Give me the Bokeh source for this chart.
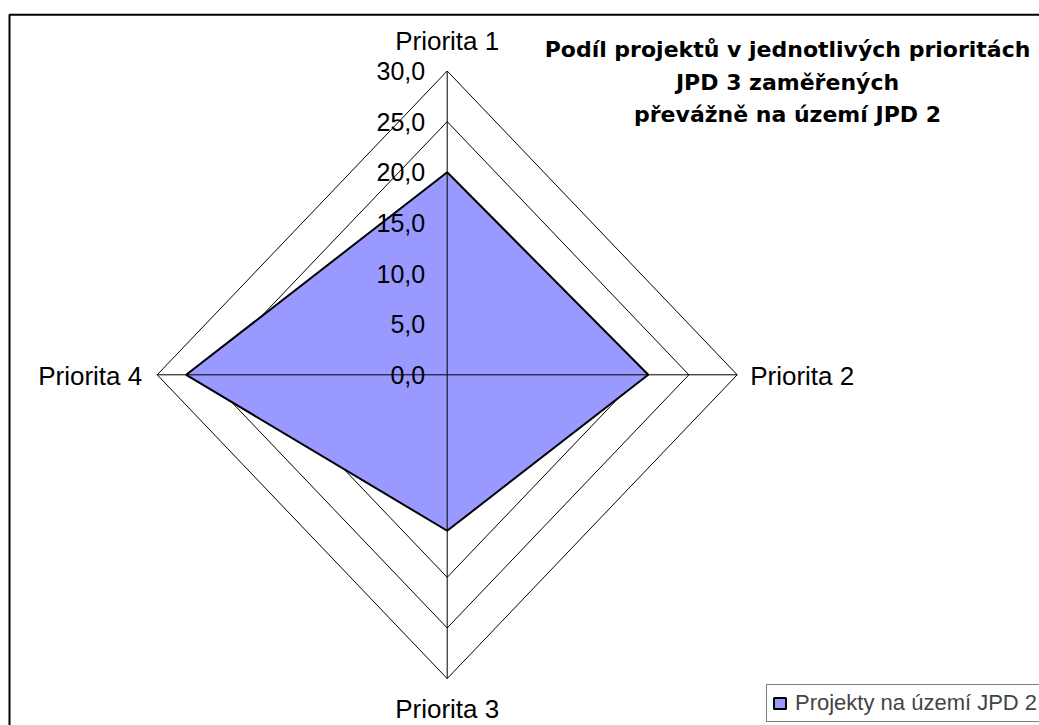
from bokeh.plotting import figure
from bokeh.models import Range1d, BoxAnnotation, Label, Legend, LegendItem, ColumnDataSource
from bokeh.core.properties import value
from bokeh.embed import file_html
from bokeh.resources import INLINE

# ---- data ----
categories = ["Priorita 1", "Priorita 2", "Priorita 3", "Priorita 4"]
values = [20.0, 20.8, 15.4, 27.0]
series_name = "Projekty na území JPD 2"
ring_levels = [5, 10, 15, 20, 25, 30]
tick_levels = [0, 5, 10, 15, 20, 25, 30]
tick_labels = ["0,0", "5,0", "10,0", "15,0", "20,0", "25,0", "30,0"]
title_lines = ["Podíl projektů v jednotlivých prioritách", "JPD 3 zaměřených", "převážně na území JPD 2"]

# directions of the 4 spokes (top, right, bottom, left)
dirs = [(0, 1), (1, 0), (0, -1), (-1, 0)]

# ---- layout (page pixels) ----
W, H = 1039, 725
CX, CY = 446.7, 374.3        # centre on the page
RX, RY = 290.0, 303.8        # pixel radius of the 30 ring
MAXV = 30.0
sx, sy = RX / MAXV, RY / MAXV
x_start = -CX / sx
x_end = (W - CX) / sx
y_end = CY / sy
y_start = -(H - CY) / sy

def dx(px):
    return x_start + px / sx

def dy(py):
    return y_end - py / sy

p = figure(width=W, height=H, x_range=Range1d(x_start, x_end), y_range=Range1d(y_start, y_end),
           toolbar_location=None, output_backend="svg", x_axis_type=None, y_axis_type=None,
           min_border=0)
p.grid.grid_line_color = None
p.outline_line_color = None
p.background_fill_color = "white"
p.border_fill_color = "white"

# rings
ring_xs, ring_ys = [], []
for lv in ring_levels:
    ring_xs.append([d[0] * lv for d in dirs] + [dirs[0][0] * lv])
    ring_ys.append([d[1] * lv for d in dirs] + [dirs[0][1] * lv])
p.multi_line(ring_xs, ring_ys, line_color="black", line_width=1)

# series polygon
px_ = [d[0] * v for d, v in zip(dirs, values)]
py_ = [d[1] * v for d, v in zip(dirs, values)]
patch = p.patch(px_, py_, fill_color="#9999FF", line_color="black", line_width=2)

# spokes
p.multi_line([[0, d[0] * MAXV] for d in dirs], [[0, d[1] * MAXV] for d in dirs],
             line_color="black", line_width=1)

# value tick labels
src = ColumnDataSource(dict(x=[0] * len(tick_levels), y=tick_levels, t=tick_labels))
p.text("x", "y", text="t", source=src, x_offset=-22, text_align="right", text_baseline="middle",
       text_font=value("Liberation Sans"), text_font_size="25px", text_color="black")

# category labels
cat_pos = [(0, MAXV), (MAXV, 0), (0, -MAXV), (-MAXV, 0)]
aligns = ["center", "left", "center", "right"]
xoffs = [0, 13, 0, -15]
yoffs = [-30, 1, 30, 1]
for c, (x, y), a, xo, yo in zip(categories, cat_pos, aligns, xoffs, yoffs):
    p.text([x], [y], text=[c], x_offset=xo, y_offset=yo, text_align=a, text_baseline="middle",
           text_font=value("Liberation Sans"), text_font_size="26px", text_color="black")

# title
for line, mid in zip(title_lines, [49, 82, 114]):
    p.add_layout(Label(x=dx(787), y=dy(mid), text=line, text_align="center", text_baseline="middle",
                       text_font="DejaVu Sans", text_font_style="bold", text_font_size="22px",
                       text_color="black"))

# chart frame (left and top edges visible; the rest runs past the picture)
p.add_layout(BoxAnnotation(left=dx(9), top=dy(14.3), right=dx(1060), bottom=dy(760),
                           fill_alpha=0, line_color="black", line_alpha=1.0, line_width=2,
                           level="overlay"))

# legend
legend = Legend(items=[LegendItem(label=series_name, renderers=[patch])], location=(766, 3),
                border_line_color="black", border_line_width=1, background_fill_color="white",
                background_fill_alpha=1.0, padding=5, margin=0, spacing=0,
                glyph_width=15, glyph_height=14, label_standoff=8, label_height=25,
                label_text_font="Liberation Sans", label_text_font_size="22px",
                label_text_baseline="middle")
p.add_layout(legend, "center")

open("out.html", "w").write(file_html(p, INLINE))
